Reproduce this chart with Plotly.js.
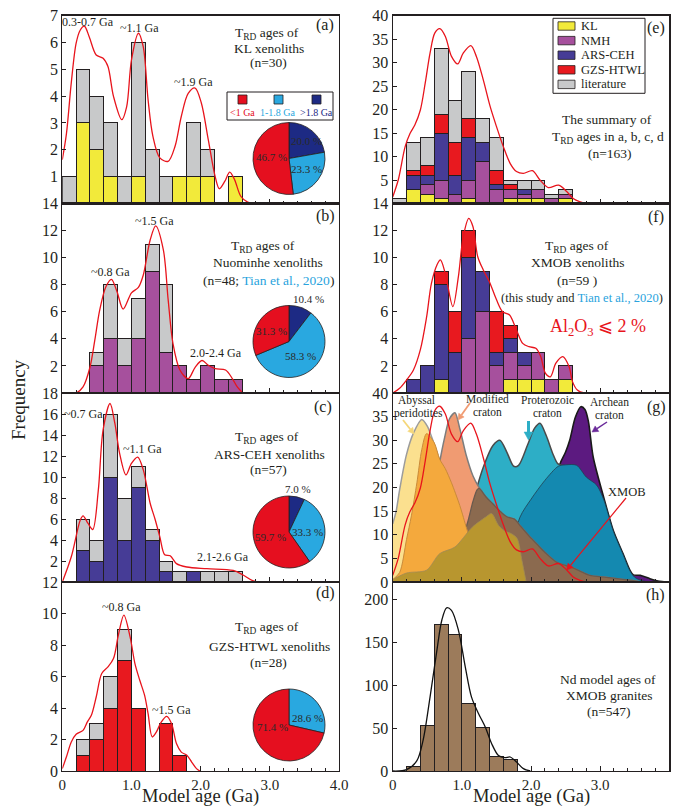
<!DOCTYPE html>
<html><head><meta charset="utf-8">
<script src="https://cdn.plot.ly/plotly-3.0.1.min.js"></script>
<style>html,body{margin:0;padding:0;background:#fff}#chart{width:678px;height:808px}</style>
</head><body><div id="chart"></div>
<script>
// ---------------- DATA ----------------
const binAges = [0.1,0.3,0.5,0.7,0.9,1.1,1.3,1.5,1.7,1.9,2.1,2.3,2.5];
// (a) KL
const aKL  = [0,3,2,1,0,1,0,0,1,1,1,0,1];
const aLit = [1,2,2,2,1,5,2,1,0,2,1,0,0];
const aCurveAge  = [0,0.06,0.13,0.2,0.26,0.32,0.39,0.49,0.59,0.66,0.74,0.86,0.93,1.0,1.1,1.17,1.24,1.31,1.41,1.53,1.63,1.72,1.82,1.92,2.01,2.11,2.21,2.27,2.35,2.42,2.49,2.58,2.68,2.77,2.97];
const aCurveFreq = [1.63,2.6,4.5,5.97,6.46,6.6,6.2,5.53,5.41,5.1,3.99,3.12,3.6,5.35,6.34,5.84,3.86,2.5,1.7,1.57,2.13,3.24,4.1,4.3,3.74,2.38,1.0,0.55,0.83,1.17,0.89,0.27,0.05,0,0];
// (b) Nuominhe
const bNMH = [0,0,2,4,2,4,9,3,2,1,2,1,1];
const bLit = [0,0,1,4,2,3,2,5,0,0,0,0,0];
const bCurveAge  = [0,0.2,0.3,0.4,0.47,0.54,0.63,0.71,0.79,0.88,1.0,1.1,1.17,1.27,1.35,1.46,1.53,1.6,1.7,1.82,1.92,2.02,2.11,2.21,2.36,2.46,2.53,2.62,2.98];
const bCurveFreq = [0,0,0.45,1.9,3.9,6.1,7.85,8.4,7.5,6.2,7.4,7.8,8.7,11.3,12.35,10.6,6.9,3.65,1.7,1.06,1.9,2.4,2.05,1.8,1.7,1.05,0.45,0,0];
// (c) ARS-CEH
const cARS = [0,3,2,10,4,9,4,1,0,1,0,0,0];
const cLit = [0,3,2,6,4,2,1,1,1,0,1,1,1];
const cCurveAge  = [0,0.13,0.26,0.3,0.37,0.44,0.52,0.59,0.69,0.76,0.83,0.92,1.0,1.09,1.17,1.27,1.34,1.41,1.48,1.56,1.65,1.8,2.09,2.47,2.62,2.76,2.86];
const cCurveFreq = [0,2.4,5.9,6.3,5.6,5.0,8.7,14.5,17.0,15.1,12.2,10.2,11.3,11.9,10.7,7.5,6.0,4.3,2.6,2.5,1.75,1.43,1.27,1.1,0.64,0.1,0];
// (d) GZS-HTWL
const dGZS = [0,1,2,4,7,4,0,3,1,0,0,0,0];
const dLit = [0,1,1,2,2,0,0,0,0,0,0,0,0];
const dCurveAge  = [0,0.06,0.13,0.2,0.3,0.36,0.42,0.49,0.57,0.66,0.74,0.81,0.89,0.98,1.05,1.12,1.19,1.24,1.3,1.36,1.43,1.51,1.58,1.65,1.72,1.8,1.87,1.94,1.99];
const dCurveFreq = [0.15,0.9,1.84,2.33,2.58,3.1,3.54,4.7,6.19,6.61,7.14,8.62,9.9,8.52,6.82,5.76,4.8,3.64,2.16,2.48,3.11,3.47,3.0,1.74,1.2,1.0,0.57,0.15,0];
// (e) summary
const eKL  = [0,3,2,1,0,1,0,0,1,1,1,0,1];
const eNMH = [0,0,2,4,2,4,9,3,2,1,2,1,1];
const eARS = [0,3,2,10,4,9,4,1,0,1,0,0,0];
const eGZS = [0,1,2,4,7,4,0,3,1,0,0,0,0];
const eLit = [1,6,6,14,9,10,5,7,1,2,2,1,1];
const eCurveAge  = [0,0.08,0.18,0.25,0.32,0.4,0.47,0.54,0.61,0.68,0.76,0.85,0.94,1.02,1.13,1.21,1.31,1.41,1.5,1.6,1.7,1.79,1.89,2.02,2.13,2.25,2.4,2.52,2.61,2.71,2.8,3.0];
const eCurveFreq = [1.4,5,12.1,14.9,16.7,19.9,25.6,32,36.3,37.2,35.6,31.3,29.7,32,33.6,31.3,26.3,20.6,16.4,12.1,8.5,6.8,6.4,7.0,5.0,3.4,3.9,2.5,1.07,0.36,0,0];
// (f) XMOB Al2O3 <= 2 %
const fKL  = [0,0,0,1,0,0,0,0,1,1,1,0,1];
const fNMH = [0,0,0,0,0,4,6,2,2,1,2,1,1];
const fARS = [0,1,2,7,3,6,3,1,1,1,0,0,0];
const fGZS = [0,0,0,1,3,2,0,3,1,0,0,0,0];
const fCurveAge  = [0,0.1,0.2,0.3,0.4,0.49,0.56,0.64,0.69,0.76,0.87,0.95,1.02,1.1,1.16,1.23,1.31,1.4,1.5,1.59,1.69,1.78,1.88,1.97,2.07,2.14,2.21,2.28,2.36,2.46,2.55,2.6,2.67,2.77,3.0];
const fCurveFreq = [0,0.35,0.96,1.7,3.2,5.6,8.1,9.46,9.83,8.84,6.38,8.6,11.55,12.9,12.3,10.07,9.09,8.2,6.9,6.0,5.76,4.78,3.67,3.42,3.3,2.7,1.45,1.2,2.2,2.68,1.95,0.84,0.22,0,0];
// (g) reference distributions
const gArcheanAge = [2.2,2.35,2.42,2.5,2.56,2.64,2.72,2.78,2.83,2.9,3.05,3.19,3.33,3.43,3.48,3.58,3.72,3.86,3.95];
const gArcheanVal = [0,18,25,27.5,30,34.8,37.1,36.5,34,26.4,18,10.9,6.0,2.5,1.5,1.4,0.7,0.15,0];
const gProtAge = [0.85,1.0,1.1,1.16,1.31,1.45,1.55,1.65,1.75,1.82,1.95,2.05,2.13,2.22,2.32,2.39,2.5,2.6,2.8,3.0,3.2,3.4,3.6];
const gProtVal = [0,8,13.5,17,24.3,28.9,30,27.5,24.5,24.7,29,32.5,33.6,31,27,25,24.5,23,18,10,4,1,0];
const gDeepAge = [1.6,1.84,2.0,2.2,2.395,2.5,2.66,2.8,2.95,3.05,3.19,3.33,3.43,3.5,3.6,3.7];
const gDeepVal = [0,13.7,17.5,21.5,24.5,24.8,24.7,22.2,20.5,17.5,10.8,5.9,2.4,1.0,0.3,0];
const gAbyssAge = [0,0.05,0.1,0.2,0.3,0.42,0.5,0.58,0.65,0.69,0.75,0.9,1.1,1.4,1.8,2.2];
const gAbyssVal = [12.3,15,19.5,27,31.5,34.4,33,30,27,25,22,18,12,6,2,0];
const gModAge = [0.3,0.45,0.55,0.62,0.68,0.75,0.82,0.9,0.97,1.06,1.16,1.25,1.35,1.45,1.55,1.65,1.76,1.85,2.0,2.08,2.2,2.37,2.5,2.61,2.71,2.85,3.09,3.3,3.48,3.6];
const gModVal = [0,5,12,20,25.4,30.5,34.5,35.8,32.5,27,22.5,20,18,16.5,15,13.8,13.3,11.8,9.3,8.1,6.3,4.2,3.5,3.0,2.3,1.4,1.0,0.6,0.3,0];
const gBrownAge = [0.95,1.0,1.1,1.16,1.22,1.25,1.35,1.45,1.55,1.65,1.76,1.85,2.0,2.08,2.2,2.37,2.5,2.61,2.71,2.85,3.09,3.3,3.48,3.6];
const gBrownVal = [0,8,13.5,17,19.5,19.8,18,16.5,15,13.8,13.3,11.8,9.3,8.1,6.3,4.2,3.5,3.0,2.3,1.4,1.0,0.6,0.3,0];
const gOrangeAge = [0,0.1,0.2,0.27,0.35,0.42,0.49,0.6,0.68,0.76,0.85,0.97,1.07,1.12,1.2,1.4,1.6,1.8];
const gOrangeVal = [0.5,2,9,14,21,28,31.4,29.5,26,24,21,16.2,11.3,9,7,4,1.5,0];
const gOliveAge = [0,0.2,0.49,0.68,0.9,1.15,1.34,1.43,1.53,1.62,1.72,1.8,1.87,1.93];
const gOliveVal = [0.5,1.9,2.5,6,7.4,11.6,13.7,14.5,12.0,10.8,10.2,9.2,4.5,0];
// (h) Nd model ages of granites
const hAges   = [0.3,0.5,0.7,0.9,1.1,1.3,1.5,1.7];
const hCounts = [5,53,171,159,78,51,17,13];
const hCurveAge   = [0,0.2,0.35,0.44,0.54,0.64,0.71,0.78,0.85,0.95,1.05,1.14,1.24,1.34,1.43,1.53,1.62,1.7,1.79,1.89,1.99];
const hCurveCount = [0,1.5,12,36,86,141,175.5,190,187,164,121,86,67,51,32,18,15.5,16.3,10.5,2.7,0];
// pies
const pieA = [20.0, 23.3, 46.7];   // >1.8, 1-1.8, <1 Ga
const pieB = [10.4, 58.3, 31.3];
const pieC = [7.0, 33.3, 59.7];
const pieD = [28.6, 71.4];          // 1-1.8, <1 Ga

// ---------------- STYLE ----------------
const W=678, H=808;
const fx = p => p/W, fy = p => 1 - p/H;
const FONT = 'Liberation Serif';
const INK = '#231f20';
const C = {yellow:'#f2ea3a', gray:'#c8c9ca', purple:'#a6509d', blue:'#463c96', red:'#e8191f',
           curve:'#e8141c', pRed:'#e50f1f', pLight:'#29a8e0', pDark:'#1d2a84', brownBar:'#9c7b5b', tian:'#29a3dd'};
const nz = arr => arr.map(v => v === 0 ? null : v);

const colX = [[62.3,339],[392.7,669.3]];
const rowY = [[15.5,203.5],[203.5,393],[393,582],[582,771]];
const panelCfg = [
  {col:0,row:0,yr:[0,7],  tv:[1,2,3,4,5,6,7]},
  {col:0,row:1,yr:[0,14], tv:[2,4,6,8,10,12,14]},
  {col:0,row:2,yr:[0,18], tv:[2,4,6,8,10,12,14,16,18]},
  {col:0,row:3,yr:[0,12], tv:[0,2,4,6,8,10,12]},
  {col:1,row:0,yr:[0,40], tv:[5,10,15,20,25,30,35,40]},
  {col:1,row:1,yr:[0,14], tv:[2,4,6,8,10,12,14]},
  {col:1,row:2,yr:[0,40], tv:[0,5,10,15,20,25,30,35,40]},
  {col:1,row:3,yr:[0,220],tv:[0,50,100,150,200]}
];

const layout = {
  width:W, height:H, margin:{l:0,r:0,t:0,b:0}, paper_bgcolor:'#fff', plot_bgcolor:'#fff',
  showlegend:false, barmode:'stack', font:{family:FONT, color:INK},
  annotations:[], shapes:[]
};
panelCfg.forEach((p,i) => {
  const n = i+1, s = n===1 ? '' : String(n);
  layout['xaxis'+s] = {
    domain:[fx(colX[p.col][0]), fx(colX[p.col][1])], anchor:'y'+s, range:[0,4],
    showline:true, mirror:true, linecolor:INK, linewidth:1.2, showgrid:false, zeroline:false,
    ticks:'inside', ticklen:5, tickwidth:1, tickcolor:INK,
    tickmode:'array', tickvals:[0,1,2,3,4], ticktext:['0','1.0','2.0','3.0','4.0'],
    showticklabels: p.row===3, tickfont:{size:15, family:FONT, color:INK},
    minor:{tickmode:'linear', tick0:0, dtick:0.2, ticks:'inside', ticklen:3, tickcolor:INK, showgrid:false},
    fixedrange:true
  };
  layout['yaxis'+s] = {
    domain:[fy(rowY[p.row][1]), fy(rowY[p.row][0])], anchor:'x'+s, range:p.yr,
    showline:true, mirror:true, linecolor:INK, linewidth:1.2, showgrid:false, zeroline:false,
    ticks:'inside', ticklen:4, tickcolor:INK, tickmode:'array', tickvals:p.tv,
    tickfont:{size:16, family:FONT, color:INK}, fixedrange:true
  };
});

const traces = [];
function bars(xa, ya, x, y, color, width){
  traces.push({type:'bar', x:x, y:nz(y), width:width||0.2, xaxis:xa, yaxis:ya,
    marker:{color:color, line:{color:INK, width:1}}, hoverinfo:'skip'});
}
function curve(xa, ya, x, y, color, w){
  traces.push({type:'scatter', mode:'lines', x:x, y:y, xaxis:xa, yaxis:ya,
    line:{color:color||C.curve, width:w||1.3, shape:'spline', smoothing:0.9}, hoverinfo:'skip'});
}
function area(xa, ya, x, y, fill, lineColor, lw){
  traces.push({type:'scatter', mode:'lines', x:x, y:y, xaxis:xa, yaxis:ya, fill:'tozeroy',
    fillcolor:fill, line:{color:lineColor, width:lw, shape:'spline', smoothing:0.8}, hoverinfo:'skip'});
}

// (a)
bars('x','y',binAges,aKL,C.yellow); bars('x','y',binAges,aLit,C.gray); curve('x','y',aCurveAge,aCurveFreq);
// (b)
bars('x2','y2',binAges,bNMH,C.purple); bars('x2','y2',binAges,bLit,C.gray); curve('x2','y2',bCurveAge,bCurveFreq);
// (c)
bars('x3','y3',binAges,cARS,C.blue); bars('x3','y3',binAges,cLit,C.gray); curve('x3','y3',cCurveAge,cCurveFreq);
// (d)
bars('x4','y4',binAges,dGZS,C.red); bars('x4','y4',binAges,dLit,C.gray); curve('x4','y4',dCurveAge,dCurveFreq);
// (e)
bars('x5','y5',binAges,eKL,C.yellow); bars('x5','y5',binAges,eNMH,C.purple); bars('x5','y5',binAges,eARS,C.blue);
bars('x5','y5',binAges,eGZS,C.red); bars('x5','y5',binAges,eLit,C.gray); curve('x5','y5',eCurveAge,eCurveFreq);
// (f)
bars('x6','y6',binAges,fKL,C.yellow); bars('x6','y6',binAges,fNMH,C.purple); bars('x6','y6',binAges,fARS,C.blue);
bars('x6','y6',binAges,fGZS,C.red); curve('x6','y6',fCurveAge,fCurveFreq);
// (g)
area('x7','y7',gArcheanAge,gArcheanVal,'#5c1a80','#1a1a1a',1.6);
area('x7','y7',gProtAge,gProtVal,'#2daec6','#4a4a4a',1.5);
area('x7','y7',gDeepAge,gDeepVal,'#1489b0','#1f3f50',0.8);
area('x7','y7',gAbyssAge,gAbyssVal,'#fbe08f','#9c9c9c',1.5);
area('x7','y7',gModAge,gModVal,'#f09b72','#7d7d7d',1.5);
area('x7','y7',gBrownAge,gBrownVal,'#8b6a4f','#6a5a4e',1.3);
area('x7','y7',gOrangeAge,gOrangeVal,'#f4a93d','#c98a3a',1);
area('x7','y7',gOliveAge,gOliveVal,'#b8962f','#a08a55',0.8);
curve('x7','y7',eCurveAge,eCurveFreq);
// (h)
bars('x8','y8',hAges,hCounts,C.brownBar); curve('x8','y8',hCurveAge,hCurveCount,'#111',1.3);

// pies
function pie(vals, colors, cx, cy){
  const r = 36;
  traces.push({type:'pie', values:vals, sort:false, direction:'clockwise', rotation:0,
    marker:{colors:colors, line:{color:INK, width:0.8}}, textinfo:'none', hoverinfo:'skip',
    domain:{x:[fx(cx-r), fx(cx+r)], y:[fy(cy+r), fy(cy-r)]}, showlegend:false});
}
pie(pieA,[C.pDark,C.pLight,C.pRed],289,158.5);
pie(pieB,[C.pDark,C.pLight,C.pRed],289,341.5);
pie(pieC,[C.pDark,C.pLight,C.pRed],289,532);
pie(pieD,[C.pLight,C.pRed],289,725);

// ---------------- TEXT ----------------
function ann(px, py, text, size, opts){
  layout.annotations.push(Object.assign({xref:'paper', yref:'paper', x:fx(px), y:fy(py), text:text,
    showarrow:false, xanchor:'center', yanchor:'middle', font:{family:FONT, size:size||13, color:INK}}, opts||{}));
}
const TRD = 'T<sub>RD</sub>';
// a
ann(88,22,'0.3-0.7 Ga',12); ann(139,28,'~1.1 Ga',12); ann(193,82,'~1.9 Ga',12);
ann(267,33,TRD+' ages of',13.5); ann(269,48,'KL xenoliths',13.5); ann(268,63,'(n=30)',13.5);
ann(325,25,'(a)',16);
// b
ann(110,272,'~0.8 Ga',12); ann(154,221,'~1.5 Ga',12); ann(216,353,'2.0-2.4 Ga',12);
ann(263,247,TRD+' ages of',13.5); ann(268,263,'Nuominhe xenoliths',13.5);
ann(268,280,'(n=48; <span style="color:'+C.tian+'">Tian et al., 2020</span>)',13.5);
ann(325,216,'(b)',16);
// c
ann(83,414,'~0.7 Ga',12); ann(142,449,'~1.1 Ga',12); ann(223,557,'2.1-2.6 Ga',12);
ann(267,437,TRD+' ages of',13.5); ann(269,454,'ARS-CEH xenoliths',13.5); ann(268,470,'(n=57)',13.5);
ann(323,407,'(c)',16);
// d
ann(121,607,'~0.8 Ga',12); ann(171,710,'~1.5 Ga',12);
ann(267,627,TRD+' ages of',13.5); ann(269,646,'GZS-HTWL xenoliths',13.5); ann(268,662,'(n=28)',13.5);
ann(325,593,'(d)',16);
// e
ann(607,119,'The summary of',13.5); ann(608,137,TRD+' ages in a, b, c, d',13.5); ann(610,153,'(n=163)',13.5);
ann(656,28,'(e)',16);
// f
ann(577,247,TRD+' ages of',13.5); ann(577,263,'XMOB xenoliths',13.5); ann(577,280,'(n=59 )',13.5);
ann(582,298,'(this study and <span style="color:'+C.tian+'">Tian et al., 2020</span>)',12.5);
ann(598,327,'Al<sub>2</sub>O<sub>3</sub> ⩽ 2 %',18,{font:{family:FONT,size:18,color:C.curve}});
ann(656,217,'(f)',16);
// g
ann(417,400,'Abyssal',11.5); ann(418,413.5,'peridotites',11.5);
ann(487,399,'Modified',11.5); ann(487,412.5,'craton',11.5);
ann(547,400,'Proterozoic',11.5); ann(547,413.5,'craton',11.5);
ann(609,402,'Archean',11.5); ann(609,415.5,'craton',11.5);
ann(627,492,'XMOB',12.5);
ann(656,407,'(g)',16);
function arrow(hx, hy, tx, ty, color, w, hl){
  const dx = hx-tx, dy = hy-ty, L = Math.hypot(dx,dy), ux = dx/L, uy = dy/L;
  const h = hl||6, hw = h*0.55;
  const bx = hx-ux*h, by = hy-uy*h;
  layout.shapes.push({type:'line', xref:'paper', yref:'paper', x0:fx(tx), y0:fy(ty), x1:fx(bx), y1:fy(by),
    line:{color:color, width:w}});
  const p1 = [bx-uy*hw, by+ux*hw], p2 = [bx+uy*hw, by-ux*hw];
  layout.shapes.push({type:'path', xref:'paper', yref:'paper',
    path:'M'+fx(hx)+','+fy(hy)+' L'+fx(p1[0])+','+fy(p1[1])+' L'+fx(p2[0])+','+fy(p2[1])+' Z',
    fillcolor:color, line:{color:color, width:0.5}});
}
arrow(414,434,403,420,'#f5d77a',1.8,6);
arrow(458,420,470,403,'#f09b72',1.8,6);
arrow(528.5,440,528.5,421,'#2daec6',3,8);
arrow(592,432,607,422,'#6a2a9a',1.5,6);
arrow(566.7,570,626,498,C.curve,1.2,6);
// h
ann(608,679,'Nd model ages of',13.5); ann(609,695,'XMOB granites',13.5); ann(609,711,'(n=547)',13.5);
ann(655,595,'(h)',16);
// pie labels
const PL = '#2a2a2a';
function pl(px,py,t){ ann(px,py,t,11,{font:{family:FONT,size:11,color:PL}}); }
pl(271,157,'46.7 %'); pl(306,169,'23.3 %'); pl(306,141,'20.0 %');
pl(308,299,'10.4 %'); pl(300,356,'58.3 %'); pl(271,331,'31.3 %');
pl(298,489,'7.0 %');  pl(307,532,'33.3 %'); pl(270,537,'59.7 %');
pl(307,718,'28.6 %'); pl(272,727,'71.4 %');
// pie legend (a)
function rect(x0,y0,x1,y1,fill,lw){
  layout.shapes.push({type:'rect', xref:'paper', yref:'paper', x0:fx(x0), x1:fx(x1), y0:fy(y1), y1:fy(y0),
    fillcolor:fill, line:{color:INK, width:lw==null?1:lw}});
}
rect(227,92,333,120,'rgba(255,255,255,0)',1);
rect(238,95,247,104,C.pRed,0.8); rect(274,95,283,104,C.pLight,0.8); rect(312,95,321,104,C.pDark,0.8);
ann(242,112,'&lt;1 Ga',10,{font:{family:FONT,size:10,color:C.pRed}});
ann(278,112,'1-1.8 Ga',10,{font:{family:FONT,size:10,color:C.pLight}});
ann(316.5,112,'&gt;1.8 Ga',10,{font:{family:FONT,size:10,color:C.pDark}});
// legend (e)
rect(553,18.3,645,93.3,'#fff',1);
const legItems = [['KL',C.yellow],['NMH',C.purple],['ARS-CEH',C.blue],['GZS-HTWL',C.red],['literature',C.gray]];
legItems.forEach((it,k) => {
  const cy = 26 + k*14.6;
  rect(558,cy-4.2,575,cy+4.2,it[1],0.8);
  ann(578.5,cy,it[0],12.5,{xanchor:'left'});
});
// axis titles
ann(18,400,'Frequency',19,{textangle:-90});
ann(200,808,'Model age (Ga)',18.5,{yanchor:'bottom', borderpad:0});
ann(531,808,'Model age (Ga)',18.5,{yanchor:'bottom', borderpad:0});

Plotly.newPlot('chart', traces, layout, {staticPlot:true, displayModeBar:false});
</script>
</body></html>
